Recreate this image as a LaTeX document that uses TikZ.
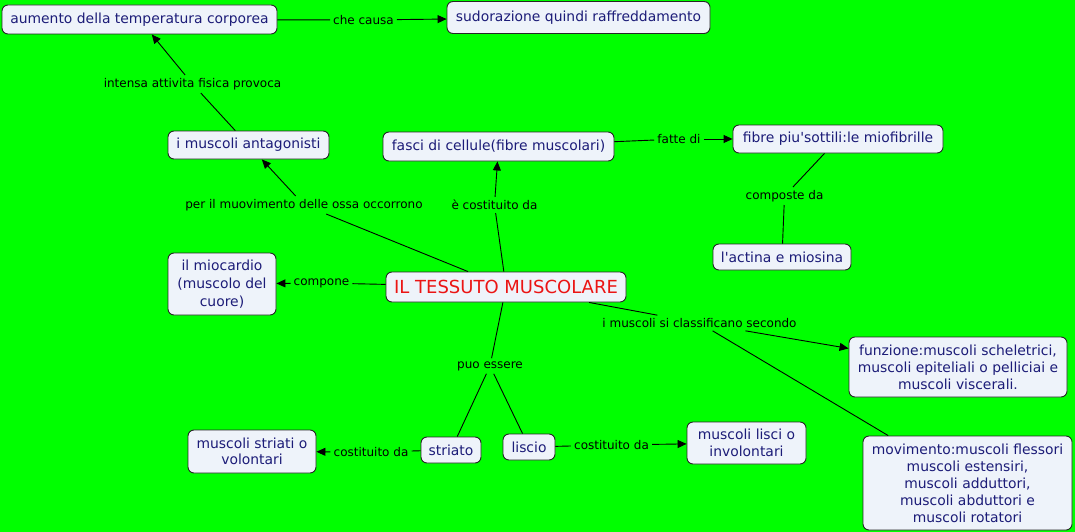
\documentclass[tikz,border=0pt]{standalone}
\usepackage{fontspec}
\setmainfont{DejaVu Sans}[Ligatures=TeXOff]
\usetikzlibrary{arrows.meta}
\definecolor{bg}{RGB}{0,255,0}
\definecolor{boxfill}{RGB}{238,243,250}
\definecolor{boxtext}{RGB}{28,28,120}
\definecolor{maintext}{RGB}{235,20,20}
\begin{document}
\begin{tikzpicture}[x=1pt,y=-1pt,
  box/.style={draw=black!85, line width=0.9pt, fill=boxfill, rounded corners=6pt, text=boxtext,
    font=\fontsize{13.9}{16.5}\selectfont, align=center, inner sep=0pt},
  lbl/.style={font=\fontsize{12}{13}\selectfont, inner sep=3pt, text=black},
  con/.style={line width=0.9pt, draw=black},
  arr/.style={con, -{Triangle[length=9pt,width=8pt]}}]
\useasboundingbox[fill=bg] (0,0) rectangle (1075,532);

% concept boxes
\node[box, minimum width=275pt, minimum height=29pt] (aum) at (139.5,19.5) {aumento della temperatura corporea};
\node[box, minimum width=263pt, minimum height=32pt] (sud) at (578.5,17.5) {sudorazione quindi raffreddamento};
\node[box, minimum width=161pt, minimum height=28pt] (ant) at (248.5,145) {i muscoli antagonisti};
\node[box, minimum width=231pt, minimum height=29pt] (fas) at (498.5,146.5) {fasci di cellule(fibre muscolari)};
\node[box, minimum width=210pt, minimum height=28pt] (fib) at (838,139) {fibre piu'sottili:le miofibrille};
\node[box, minimum width=138pt, minimum height=26pt] (act) at (782,257) {l'actina e miosina};
\node[box, minimum width=108pt, minimum height=62pt, font=\fontsize{13.9}{18}\selectfont] (mio) at (222,284) {il miocardio\\(muscolo del\\cuore)};
\node[box, minimum width=240pt, minimum height=30pt, text=maintext, font=\fontsize{18}{20}\selectfont] (tes) at (506,287) {IL TESSUTO MUSCOLARE};
\node[box, minimum width=218pt, minimum height=60pt, font=\fontsize{13.9}{17}\selectfont] (fun) at (958,367) {funzione:muscoli scheletrici,\\muscoli epiteliali o pelliciai e\\muscoli viscerali.};
\node[box, minimum width=209pt, minimum height=94pt, font=\fontsize{13.9}{17}\selectfont] (mov) at (967.5,483) {movimento:muscoli flessori\\muscoli estensiri,\\muscoli adduttori,\\muscoli abduttori e\\muscoli rotatori};
\node[box, minimum width=119pt, minimum height=42pt] (lis2) at (746.5,443) {muscoli lisci o\\involontari};
\node[box, minimum width=128pt, minimum height=43pt] (str2) at (252,451.5) {muscoli striati o\\volontari};
\node[box, minimum width=60pt, minimum height=26pt] (str) at (451,450) {striato};
\node[box, minimum width=52pt, minimum height=26pt] (lis) at (529,447) {liscio};

% linking phrases
\node[lbl] (l1) at (363.5,20) {che causa};
\node[lbl] (l2) at (192.5,84) {intensa attivita fisica provoca};
\node[lbl] (l3) at (304,205) {per il muovimento delle ossa occorrono};
\node[lbl] (l4) at (494.5,205) {è costituito da};
\node[lbl] (l5) at (679,139) {fatte di};
\node[lbl] (l6) at (784.5,196) {composte da};
\node[lbl] (l7) at (321.5,283) {compone};
\node[lbl] (l8) at (699.5,323) {i muscoli si classificano secondo};
\node[lbl] (l9) at (490,366) {puo essere};
\node[lbl] (l10) at (371,452) {costituito da};
\node[lbl] (l11) at (611.5,445) {costituito da};

% connectors
\draw[con] (aum) -- (l1); \draw[arr] (l1) -- (sud);
\draw[con] (ant) -- (l2); \draw[arr] (l2) -- (aum);
\draw[con] (tes) -- (l3); \draw[arr] (l3) -- (ant);
\draw[con] (tes) -- (l4); \draw[arr] (l4) -- (fas);
\draw[con] (fas) -- (l5); \draw[arr] (l5) -- (fib);
\draw[con] (fib) -- (l6); \draw[con] (l6) -- (act);
\draw[con] (tes) -- (l7); \draw[arr] (l7) -- (mio);
\draw[con] (tes) -- (l8); \draw[arr] (l8) -- (fun); \draw[con] (l8) -- (mov);
\draw[con] (tes) -- (l9); \draw[con] (l9) -- (str); \draw[con] (l9) -- (lis);
\draw[con] (str) -- (l10); \draw[arr] (l10) -- (str2);
\draw[con] (lis) -- (l11); \draw[arr] (l11) -- (lis2);
\end{tikzpicture}
\end{document}
